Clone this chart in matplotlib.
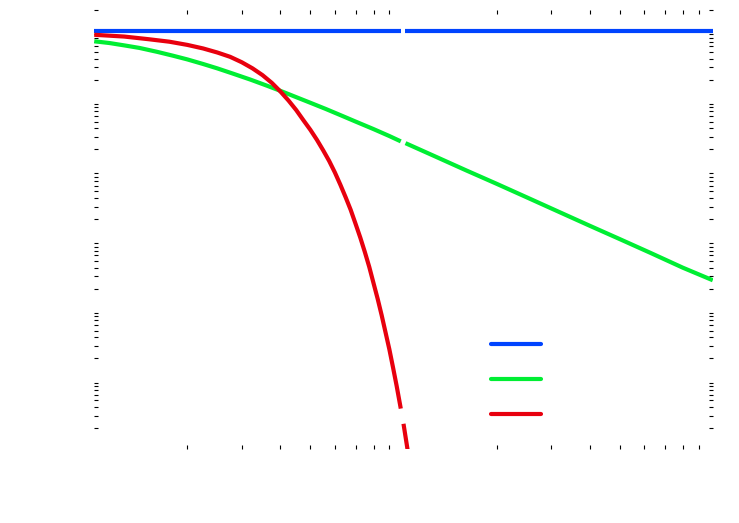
import matplotlib
matplotlib.use("Agg")
import matplotlib.pyplot as plt
from matplotlib.ticker import LogLocator, NullFormatter
import numpy as np

# values (log-log), every curve breaks around x = 10
blue_x = [1, 2, 5, 9.8, np.nan, 10.15, 20, 50, 100]
blue_y = [1, 1, 1, 1, np.nan, 1, 1, 1, 1]

green_x = [1, 1.12, 1.25, 1.4, 1.6, 1.8, 2, 2.25, 2.5, 2.8, 3.2, 3.6, 4, 4.5, 5, 5.6,
           6.3, 7, 8, 9, 9.8, np.nan,
           10.15, 12.5, 16, 20, 25, 32, 40, 50, 63, 80, 100]
green_y = [0.71, 0.67, 0.62, 0.57, 0.50, 0.44, 0.39, 0.335, 0.29, 0.245, 0.20, 0.165,
           0.138, 0.112, 0.093, 0.076, 0.061, 0.05, 0.039, 0.031, 0.026, np.nan,
           0.0245, 0.0162, 0.0099, 0.0064, 0.0041, 0.0025, 0.0016, 0.00103, 0.00065,
           0.00040, 0.000264]

red_x = [1, 1.25, 1.5, 1.75, 2, 2.25, 2.5, 2.75, 3, 3.25, 3.5, 3.75, 4, 4.25, 4.5, 4.75,
         5, 5.25, 5.5, 5.75, 6, 6.25, 6.5, 6.75, 7, 7.25, 7.5, 7.75, 8, 8.25, 8.5, 8.75,
         9, 9.25, 9.5, 9.8, np.nan, 10.0, 10.3, 10.6, 10.9]
red_y = [0.88, 0.83, 0.76, 0.70, 0.63, 0.56, 0.49, 0.425, 0.355, 0.29, 0.232, 0.18, 0.135,
         0.10, 0.073, 0.052, 0.038, 0.0273, 0.0193, 0.0136, 0.0093, 0.0062, 0.0041,
         0.0027, 0.0017, 0.00108, 6.7e-4, 4.1e-4, 2.4e-4, 1.43e-4, 8.3e-5, 4.7e-5,
         2.7e-5, 1.48e-5, 8.1e-6, 3.8e-6, np.nan, 2.3e-6, 1.0e-6, 4.5e-7, 2.0e-7]

fig = plt.figure(figsize=(7.39, 5.23), dpi=100)
ax = fig.add_axes([0.1275, 0.1415, 0.837, 0.8395])

l1, = ax.plot(blue_x, blue_y, color="#0044ff", lw=3, solid_capstyle="butt")
l2, = ax.plot(green_x, green_y, color="#00ee33", lw=3, solid_capstyle="butt")
l3, = ax.plot(red_x, red_y, color="#e8000e", lw=3, solid_capstyle="butt")

ax.set_xscale("log")
ax.set_yscale("log")
ax.set_xlim(1, 100)
ax.set_ylim(1e-6, 2)

for s in ax.spines.values():
    s.set_visible(False)

ax.xaxis.set_minor_locator(LogLocator(base=10, subs=np.arange(2, 10), numticks=100))
ax.yaxis.set_minor_locator(LogLocator(base=10, subs=np.arange(2, 10), numticks=100))
ax.xaxis.set_minor_formatter(NullFormatter())
ax.yaxis.set_minor_formatter(NullFormatter())
ax.tick_params(which="major", length=0, labelbottom=False, labelleft=False)
ax.tick_params(which="minor", direction="in", length=3, width=0.8,
               top=True, bottom=True, left=True, right=True)

leg = ax.legend([l1, l2, l3], [" ", " ", " "], loc="upper left",
                bbox_to_anchor=(0.631, 0.269), frameon=False, fontsize=10,
                handlelength=3.6, labelspacing=1.5, borderpad=0)
for h in leg.get_lines():
    h.set_solid_capstyle("round")

fig.savefig("out.png", dpi=100)
